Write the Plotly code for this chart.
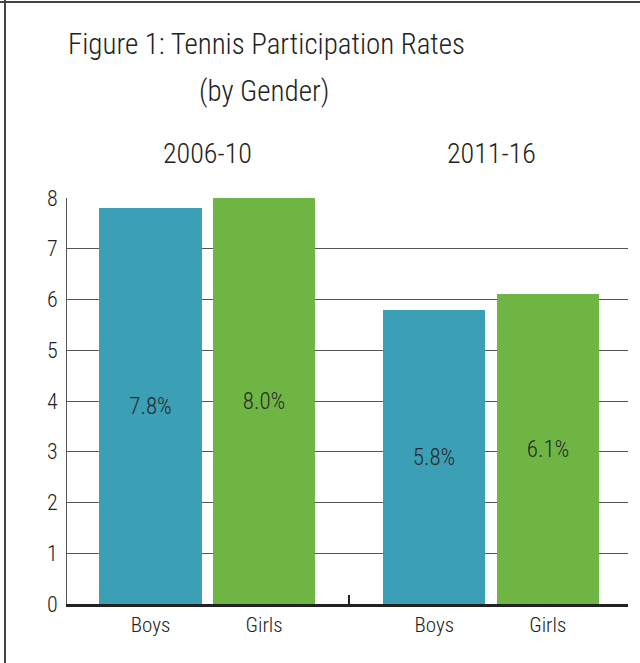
import plotly.graph_objects as go

# ---- data ----
periods = ["2006-10", "2011-16"]
genders = ["Boys", "Girls"]
rates = {"Boys": [7.8, 5.8], "Girls": [8.0, 6.1]}
colors = {"Boys": "#3b9fb6", "Girls": "#6fb544"}
y_ticks = [0, 1, 2, 3, 4, 5, 6, 7, 8]

FONT = "Roboto Condensed, Liberation Sans, sans-serif"
W, H = 640, 663
ML, MR, MT, MB = 67, 12, 198, 59
PW, PH = W - ML - MR, H - MT - MB

def px_x(p):
    return (p - ML) / PW

def px_y(p):
    return (H - MB - p) / PH

group_gap = 2.5  # distance between group starts, in bar slots
fig = go.Figure()
tickvals, ticktext = [], []
for gi, g in enumerate(genders):
    xs = [pi * group_gap + gi for pi in range(len(periods))]
    fig.add_trace(go.Bar(
        x=xs, y=rates[g], width=0.9, name=g,
        marker=dict(color=colors[g], line=dict(width=0)),
        text=[f"{v:.1f}%" for v in rates[g]],
        textposition="inside", insidetextanchor="middle",
        textfont=dict(family=FONT, size=23, color="#2a2a2a", weight=300),
        hoverinfo="skip", showlegend=False,
    ))
    tickvals += xs
    ticktext += [g] * len(xs)

annotations = [
    dict(text="Figure 1: Tennis Participation Rates", xref="paper", yref="paper",
         x=px_x(266), y=px_y(44), xanchor="center", yanchor="middle", showarrow=False,
         font=dict(family=FONT, size=29, color="#222222", weight=300)),
    dict(text="(by Gender)", xref="paper", yref="paper",
         x=px_x(264), y=px_y(91), xanchor="center", yanchor="middle", showarrow=False,
         font=dict(family=FONT, size=29, color="#222222", weight=300)),
]
for pi, p in enumerate(periods):
    annotations.append(dict(
        text=p, xref="x", yref="paper", x=pi * group_gap + 0.5, y=px_y(154),
        xanchor="center", yanchor="middle", showarrow=False,
        font=dict(family=FONT, size=28, color="#222222", weight=300)))

shapes = [
    dict(type="line", xref="paper", yref="paper", x0=px_x(0), x1=px_x(W), y0=px_y(2), y1=px_y(2),
         line=dict(color="#444444", width=2)),
    dict(type="line", xref="paper", yref="paper", x0=px_x(5), x1=px_x(5), y0=px_y(0), y1=px_y(H),
         line=dict(color="#444444", width=2)),
]

fig.update_layout(
    width=W, height=H,
    margin=dict(l=ML, r=MR, t=MT, b=MB),
    paper_bgcolor="white", plot_bgcolor="white",
    bargap=0, annotations=annotations, shapes=shapes,
    font=dict(family=FONT, color="#333333"),
    xaxis=dict(
        range=[-0.736, 4.207], tickvals=tickvals, ticktext=ticktext,
        ticks="", showgrid=False, zeroline=False,
        showline=True, linecolor="#222222", linewidth=2.5,
        tickfont=dict(family=FONT, size=21, color="#222222", weight=300),
        minor=dict(tickvals=[(group_gap + 1) / 2], ticks="inside", ticklen=9,
                   tickwidth=2, tickcolor="#222222"),
        fixedrange=True,
    ),
    yaxis=dict(
        range=[0, 8], tickvals=y_ticks, showgrid=True, gridcolor="#555555", gridwidth=1,
        zeroline=False, showline=True, linecolor="#555555", linewidth=1,
        ticks="", ticklen=0, ticklabelstandoff=4,
        tickfont=dict(family=FONT, size=22, color="#222222", weight=300),
        fixedrange=True,
    ),
)

fig.write_html("out.html", config={"displayModeBar": False},
               post_script="document.body.style.margin='0'")
